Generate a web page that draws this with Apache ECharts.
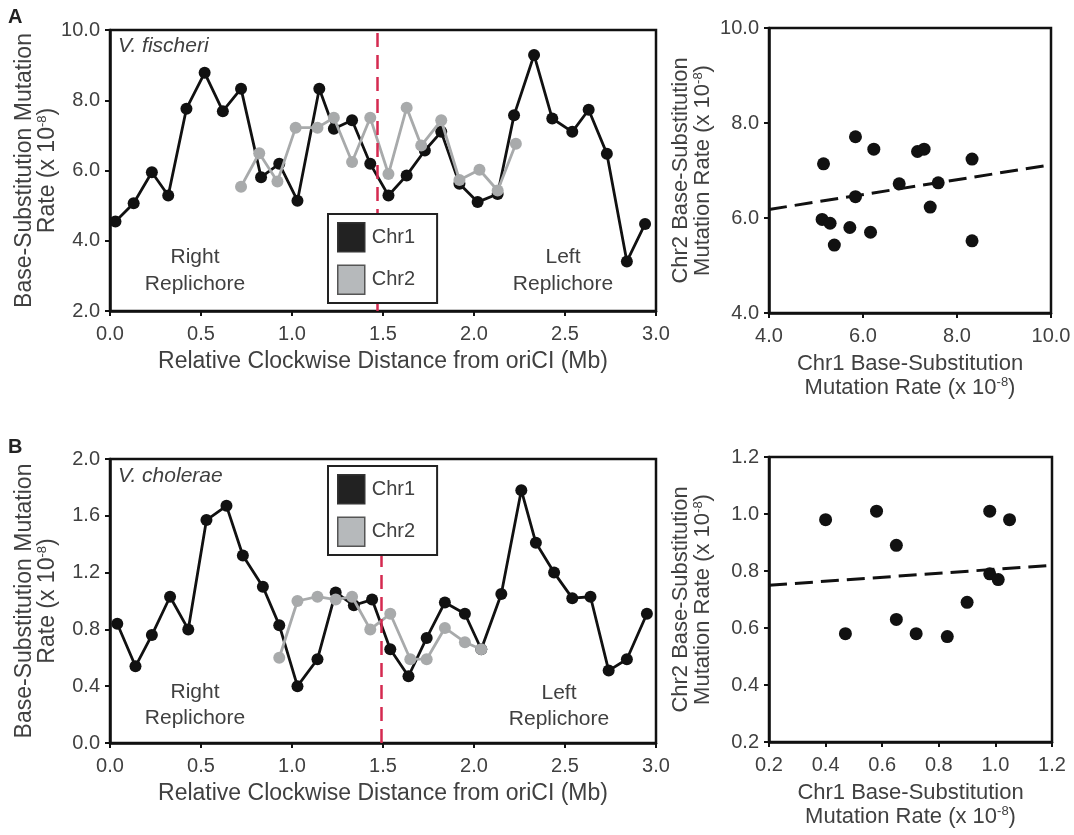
<!DOCTYPE html>
<html>
<head>
<meta charset="utf-8">
<script src="https://cdn.jsdelivr.net/npm/echarts@6/dist/echarts.min.js"></script>
<style>
  html, body { margin: 0; padding: 0; background: #fff; }
  #chart { width: 1074px; height: 835px; }
</style>
</head>
<body>
<div id="chart"></div>
<script>
// panel A - V. fischeri
const chr1PosA = [0.03, 0.13, 0.23, 0.32, 0.42, 0.52, 0.62, 0.72, 0.83, 0.93, 1.03, 1.15, 1.23, 1.33, 1.43,
    1.53, 1.63, 1.73, 1.82, 1.92, 2.02, 2.13, 2.22, 2.33, 2.43, 2.54, 2.63, 2.73, 2.84, 2.94];
const chr1RateA = [4.55, 5.07, 5.95, 5.29, 7.76, 8.78, 7.69, 8.33, 5.81, 6.19, 5.14, 8.33, 7.19, 7.43, 6.19,
    5.29, 5.86, 6.57, 7.10, 5.62, 5.10, 5.33, 7.57, 9.29, 7.48, 7.10, 7.73, 6.48, 3.41, 4.48];
const chr2PosA = [0.72, 0.82, 0.92, 1.02, 1.14, 1.23, 1.33, 1.43, 1.53, 1.63, 1.71, 1.82, 1.92, 2.03, 2.13, 2.23];
const chr2RateA = [5.54, 6.49, 5.69, 7.22, 7.22, 7.50, 6.24, 7.50, 5.90, 7.79, 6.71, 7.43, 5.73, 6.02, 5.43, 6.76];
const scatterXA = [5.16, 5.13, 5.30, 5.39, 5.72, 5.84, 5.84, 6.16, 6.23, 6.77, 7.16, 7.30, 7.43, 7.60, 8.32, 8.32];
const scatterYA = [7.14, 5.97, 5.89, 5.43, 5.80, 7.71, 6.45, 5.70, 7.45, 6.72, 7.40, 7.45, 6.23, 6.74, 7.24, 5.52];
const trendA = [[4.0, 6.18], [10.0, 7.12]];
const oriA = 1.47;

// panel B - V. cholerae
const chr1PosB = [0.04, 0.14, 0.23, 0.33, 0.43, 0.53, 0.64, 0.73, 0.84, 0.93, 1.03, 1.14, 1.24, 1.34, 1.44,
    1.54, 1.64, 1.74, 1.84, 1.95, 2.04, 2.15, 2.26, 2.34, 2.44, 2.54, 2.64, 2.74, 2.84, 2.95];
const chr1RateB = [0.84, 0.54, 0.76, 1.03, 0.80, 1.57, 1.67, 1.32, 1.10, 0.83, 0.40, 0.59, 1.06, 0.97, 1.01,
    0.66, 0.47, 0.74, 0.99, 0.91, 0.66, 1.05, 1.78, 1.41, 1.20, 1.02, 1.03, 0.51, 0.59, 0.91];
const chr2PosB = [0.93, 1.03, 1.14, 1.24, 1.33, 1.43, 1.54, 1.65, 1.74, 1.84, 1.95, 2.04];
const chr2RateB = [0.60, 1.00, 1.03, 1.01, 1.03, 0.80, 0.91, 0.59, 0.59, 0.81, 0.71, 0.66];
const scatterXB = [0.40, 0.47, 0.58, 0.65, 0.65, 0.72, 0.83, 0.90, 0.98, 0.98, 1.01, 1.05];
const scatterYB = [0.98, 0.58, 1.01, 0.89, 0.63, 0.58, 0.57, 0.69, 1.01, 0.79, 0.77, 0.98];
const trendB = [[0.2, 0.75], [1.2, 0.82]];
const oriB = 1.49;

const seriesNames = ['Chr1', 'Chr2'];

const colorSets = {
    text: '#404040',
    axis: '#111',
    chr1: '#111',
    chr2: '#a8aaab',
    chr2Swatch: '#b6b9bb',
    ori: '#d52a50'
};
const fontFamily = '"Liberation Sans", Arial, sans-serif';

function supRich(size, lh) {
    return {
        a: { fontSize: size, color: colorSets.text, fontFamily: fontFamily, lineHeight: lh },
        s: { fontSize: 13, color: colorSets.text, fontFamily: fontFamily, lineHeight: lh, verticalAlign: 'top', padding: [0, 0, 7, 0] }
    };
}
const rateLine = '{a|Rate (x 10}{s|-8}{a|)}';
const mutLine = '{a|Mutation Rate (x 10}{s|-8}{a|)}';

function zip(xs, ys) {
    return xs.map((x, i) => [x, ys[i]]);
}

function tickLabel(margin) {
    return {
        color: colorSets.text,
        fontSize: 20,
        fontFamily: fontFamily,
        margin: margin,
        formatter: v => v.toFixed(1)
    };
}

function makeAxis(opts, size, lh) {
    return Object.assign({
        type: 'value',
        nameLocation: 'middle',
        nameMoveOverlap: false,
        nameTextStyle: { rich: supRich(size, lh), color: colorSets.text, fontSize: size, fontFamily: fontFamily },
        axisLine: { show: true, lineStyle: { color: colorSets.axis, width: 2.5 } },
        axisTick: { show: true, length: 5, lineStyle: { color: colorSets.axis, width: 2 } },
        axisLabel: tickLabel(10),
        splitLine: { show: false }
    }, opts);
}

const gridStyle = {
    show: true,
    borderColor: colorSets.axis,
    borderWidth: 2.5,
    backgroundColor: '#fff',
    outerBoundsMode: 'none'
};

function makeLegend(top) {
    return {
        left: 328, top: top, orient: 'vertical', z: 20,
        backgroundColor: '#fff', borderColor: '#222', borderWidth: 2,
        padding: [8, 22, 8, 9], itemGap: 12, itemWidth: 27, itemHeight: 29,
        icon: 'rect',
        textStyle: { color: colorSets.text, fontSize: 20, fontFamily: fontFamily, padding: [0, 0, 0, 2] },
        data: [
            { name: seriesNames[0], itemStyle: { color: '#222', borderColor: '#333', borderWidth: 1.5 } },
            { name: seriesNames[1], itemStyle: { color: colorSets.chr2Swatch, borderColor: '#555', borderWidth: 1.5 } }
        ]
    };
}

function makeSeries(xIdx, xs, ys, name, color) {
    return {
        name: name, type: 'line', xAxisIndex: xIdx, yAxisIndex: xIdx,
        z: name === seriesNames[0] ? 3 : 4,
        data: zip(xs, ys),
        symbol: 'circle', symbolSize: 12,
        lineStyle: { color: color, width: 2.8 },
        itemStyle: { color: color }
    };
}

function oriLine(x) {
    return {
        silent: true, symbol: 'none', label: { show: false },
        lineStyle: { color: colorSets.ori, type: [14, 8], width: 2.5 },
        data: [{ xAxis: x }]
    };
}

const chr1A = makeSeries(0, chr1PosA, chr1RateA, seriesNames[0], colorSets.chr1);
chr1A.markLine = oriLine(oriA);
const chr1B = makeSeries(2, chr1PosB, chr1RateB, seriesNames[0], colorSets.chr1);
chr1B.markLine = oriLine(oriB);

const distName = 'Relative Clockwise Distance from oriCI (Mb)';
const chr1Name = '{a|Chr1 Base-Substitution}\n' + mutLine;
const chr2Name = '{a|Chr2 Base-Substitution}\n' + mutLine;
const rateName = '{a|Base-Substitution Mutation}\n' + rateLine;

const option = {
    backgroundColor: '#fff',
    animation: false,
    grid: [
        Object.assign({ left: 110, top: 30, width: 546, height: 281 }, gridStyle),
        Object.assign({ left: 769, top: 28, width: 282, height: 285 }, gridStyle),
        Object.assign({ left: 110, top: 459, width: 546, height: 284 }, gridStyle),
        Object.assign({ left: 769, top: 457, width: 283, height: 285 }, gridStyle)
    ],
    xAxis: [
        makeAxis({ gridIndex: 0, min: 0, max: 3, interval: 0.5, axisLabel: tickLabel(13),
            name: distName, nameGap: 39 }, 23, 24),
        makeAxis({ gridIndex: 1, min: 4, max: 10, interval: 2, axisLabel: tickLabel(13),
            name: chr1Name, nameGap: 39 }, 22, 24),
        makeAxis({ gridIndex: 2, min: 0, max: 3, interval: 0.5, axisLabel: tickLabel(13),
            name: distName, nameGap: 39 }, 23, 24),
        makeAxis({ gridIndex: 3, min: 0.2, max: 1.2, interval: 0.2, axisLabel: tickLabel(13),
            name: chr1Name, nameGap: 39 }, 22, 24)
    ],
    yAxis: [
        makeAxis({ gridIndex: 0, min: 2, max: 10, interval: 2, name: rateName, nameGap: 51 }, 23, 23),
        makeAxis({ gridIndex: 1, min: 4, max: 10, interval: 2, name: chr2Name, nameGap: 55 }, 22, 22),
        makeAxis({ gridIndex: 2, min: 0, max: 2, interval: 0.4, name: rateName, nameGap: 51 }, 23, 23),
        makeAxis({ gridIndex: 3, min: 0.2, max: 1.2, interval: 0.2, name: chr2Name, nameGap: 55 }, 22, 22)
    ],
    legend: [makeLegend(214), makeLegend(466)],
    graphic: [
        { type: 'text', left: 8, top: 7, style: { text: 'A', font: 'bold 20px ' + fontFamily, fill: '#222' } },
        { type: 'text', left: 8, top: 437, style: { text: 'B', font: 'bold 20px ' + fontFamily, fill: '#222' } },
        { type: 'text', left: 118, top: 36, z: 10, style: { text: 'V. fischeri', font: 'italic 21px ' + fontFamily, fill: colorSets.text } },
        { type: 'text', left: 118, top: 466, z: 10, style: { text: 'V. cholerae', font: 'italic 21px ' + fontFamily, fill: colorSets.text } },
        { type: 'text', x: 195, y: 244, z: 10, style: { text: 'Right\nReplichore', font: '21px ' + fontFamily, fill: colorSets.text, align: 'center', lineHeight: 27 } },
        { type: 'text', x: 563, y: 244, z: 10, style: { text: 'Left\nReplichore', font: '21px ' + fontFamily, fill: colorSets.text, align: 'center', lineHeight: 27 } },
        { type: 'text', x: 195, y: 679, z: 10, style: { text: 'Right\nReplichore', font: '21px ' + fontFamily, fill: colorSets.text, align: 'center', lineHeight: 26 } },
        { type: 'text', x: 559, y: 680, z: 10, style: { text: 'Left\nReplichore', font: '21px ' + fontFamily, fill: colorSets.text, align: 'center', lineHeight: 26 } }
    ],
    series: [
        chr1A,
        makeSeries(0, chr2PosA, chr2RateA, seriesNames[1], colorSets.chr2),
        {
            type: 'scatter', xAxisIndex: 1, yAxisIndex: 1,
            data: zip(scatterXA, scatterYA),
            symbolSize: 13,
            itemStyle: { color: colorSets.chr1, opacity: 1 }
        },
        {
            type: 'line', xAxisIndex: 1, yAxisIndex: 1, data: trendA, symbol: 'none', z: 1,
            lineStyle: { color: colorSets.chr1, width: 3, type: [18, 8] }
        },
        chr1B,
        makeSeries(2, chr2PosB, chr2RateB, seriesNames[1], colorSets.chr2),
        {
            type: 'scatter', xAxisIndex: 3, yAxisIndex: 3,
            data: zip(scatterXB, scatterYB),
            symbolSize: 13,
            itemStyle: { color: colorSets.chr1, opacity: 1 }
        },
        {
            type: 'line', xAxisIndex: 3, yAxisIndex: 3, data: trendB, symbol: 'none', z: 1,
            lineStyle: { color: colorSets.chr1, width: 3, type: [18, 8] }
        }
    ]
};

const chart = echarts.init(document.getElementById('chart'), null, { renderer: 'canvas' });
chart.setOption(option);
</script>
</body>
</html>
